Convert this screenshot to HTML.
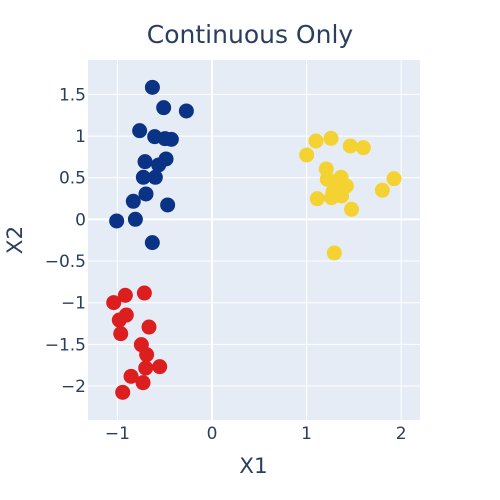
<!DOCTYPE html>
<html>
<head>
<meta charset="utf-8">
<style>
html,body{margin:0;padding:0;background:#fff;width:500px;height:500px;overflow:hidden}
svg{display:block}
text{font-family:"DejaVu Sans","Liberation Sans",sans-serif;fill:#2a3f5f}
</style>
</head>
<body>
<svg id="chart" width="500" height="500" viewBox="0 0 500 500" xmlns="http://www.w3.org/2000/svg">
<rect x="0" y="0" width="500" height="500" fill="#ffffff"/>
<rect x="88" y="60" width="332" height="360" fill="#e5ecf6"/>
<g id="grid"></g>
<g id="marks"></g>
<g id="ticks"></g>
<text x="250" y="43" text-anchor="middle" font-size="25">Continuous Only</text>
<text x="253.5" y="473" text-anchor="middle" font-size="21.5">X1</text>
<text x="0" y="0" transform="translate(22,240) rotate(-90)" text-anchor="middle" font-size="21.5">X2</text>
</svg>
<script>
const xTicks = [-1, 0, 1, 2];
const yTicks = [-2, -1.5, -1, -0.5, 0, 0.5, 1, 1.5];
const blueX = [-0.63,-0.511,-0.271,-0.765,-0.606,-0.497,-0.43,-0.486,-0.708,-0.564,-0.726,-0.599,-0.698,-0.832,-0.469,-0.81,-1.008,-0.631];
const blueY = [1.585,1.341,1.301,1.065,0.993,0.969,0.961,0.725,0.693,0.653,0.505,0.505,0.305,0.217,0.173,0.001,-0.019,-0.279];
const yellowX = [1.099,1.258,1.001,1.462,1.6,1.208,1.924,1.801,1.113,1.475,1.293,1.219,1.364,1.42,1.264,1.37,1.3,1.3,1.353,1.28];
const yellowY = [0.941,0.973,0.773,0.881,0.861,0.605,0.489,0.349,0.249,0.121,-0.403,0.481,0.505,0.401,0.261,0.281,0.373,0.453,0.373,0.333];
const redX = [-1.039,-0.916,-0.715,-0.906,-0.98,-0.666,-0.965,-0.747,-0.691,-0.553,-0.701,-0.856,-0.729,-0.944];
const redY = [-0.999,-0.911,-0.884,-1.148,-1.208,-1.292,-1.372,-1.504,-1.624,-1.768,-1.784,-1.884,-1.96,-2.076];

const NS = 'http://www.w3.org/2000/svg';
const plot = {left: 88, right: 420, top: 60, bottom: 420};
const xRange = [-1.311, 2.199];
const yRange = [-2.408, 1.913];
function xScale(v) {
  return plot.left + (v - xRange[0]) / (xRange[1] - xRange[0]) * (plot.right - plot.left);
}
function yScale(v) {
  return plot.bottom - (v - yRange[0]) / (yRange[1] - yRange[0]) * (plot.bottom - plot.top);
}
function fmt(v) {
  return String(v).replace('-', '\u2212');
}
const grid = document.getElementById('grid');
const marks = document.getElementById('marks');
const ticks = document.getElementById('ticks');

xTicks.forEach(function (t) {
  const l = document.createElementNS(NS, 'line');
  
  
  l.setAttribute('x1', xScale(t));
  l.setAttribute('x2', xScale(t));
  l.setAttribute('y1', plot.top);
  l.setAttribute('y2', plot.bottom);
  l.setAttribute('stroke', '#ffffff');
  l.setAttribute('stroke-width', t === 0 ? 2 : 1);
  grid.appendChild(l);
  const s = document.createElementNS(NS, 'text');
  
  
  s.setAttribute('x', xScale(t));
  s.setAttribute('y', 439);
  s.setAttribute('text-anchor', 'middle');
  s.setAttribute('font-size', '17');
  s.textContent = fmt(t);
  ticks.appendChild(s);
});
yTicks.forEach(function (t) {
  const l = document.createElementNS(NS, 'line');
  
  
  l.setAttribute('x1', plot.left);
  l.setAttribute('x2', plot.right);
  l.setAttribute('y1', yScale(t));
  l.setAttribute('y2', yScale(t));
  l.setAttribute('stroke', '#ffffff');
  l.setAttribute('stroke-width', t === 0 ? 2 : 1);
  grid.appendChild(l);
  const s = document.createElementNS(NS, 'text');
  
  
  s.setAttribute('x', 86);
  s.setAttribute('y', yScale(t) + 6);
  s.setAttribute('text-anchor', 'end');
  s.setAttribute('font-size', '17');
  s.textContent = fmt(t);
  ticks.appendChild(s);
});
function drawSeries(xs, ys, color, name) {
  xs.forEach(function (x, i) {
    const c = document.createElementNS(NS, 'circle');
    
    
    c.setAttribute('cx', xScale(x));
    c.setAttribute('cy', yScale(ys[i]));
    c.setAttribute('r', 7.5);
    c.setAttribute('fill', color);
    marks.appendChild(c);
  });
}
drawSeries(blueX, blueY, '#0b3385', 'point-blue');
drawSeries(yellowX, yellowY, '#f4d232', 'point-yellow');
drawSeries(redX, redY, '#dc1f1e', 'point-red');
</script>
</body>
</html>
